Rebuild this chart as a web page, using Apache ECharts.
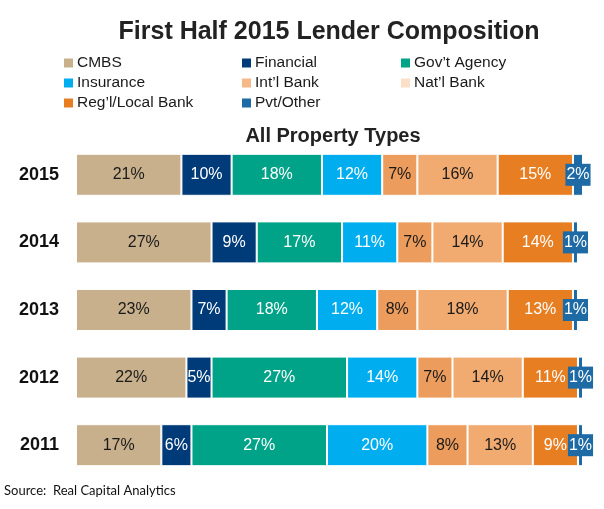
<!DOCTYPE html>
<html>
<head>
<meta charset="utf-8">
<script src="https://cdn.jsdelivr.net/npm/echarts@6/dist/echarts.min.js"></script>
<style>
  html, body { margin: 0; padding: 0; background: #fff; }
  #chart { width: 604px; height: 509px; }
</style>
</head>
<body>
<div id="chart"></div>
<script>
// years, top to bottom
var years = ['2015', '2014', '2013', '2012', '2011'];

// share of lending, % (labels as printed)
var cmbs      = [21, 27, 23, 22, 17];
var financial = [10,  9,  7,  5,  6];
var govAgency = [18, 17, 18, 27, 27];
var insurance = [12, 11, 12, 14, 20];
var intlBank  = [ 7,  7,  8,  7,  8];
var natlBank  = [16, 14, 18, 14, 13];
var reglBank  = [15, 14, 13, 11,  9];
var pvtOther  = [ 2,  1,  1,  1,  1];

var chart = echarts.init(document.getElementById('chart'), null, { renderer: 'canvas' });

var font = 'Arial';

function makeSeries(name, data, color, labelColor, extra) {
  var s = {
    name: name,
    type: 'bar',
    stack: 'all',
    barWidth: 42,
    data: data,
    itemStyle: { color: color, borderColor: '#fff', borderWidth: 1 },
    label: {
      show: true,
      position: 'inside',
      formatter: '{c}%',
      fontFamily: font,
      fontSize: 16,
      color: labelColor
    }
  };
  if (extra) {
    Object.assign(s.label, extra);
  }
  return s;
}

function legendCol(left, names) {
  return {
    orient: 'vertical',
    left: left,
    top: 55,
    padding: 0,
    icon: 'rect',
    itemWidth: 11,
    itemHeight: 11,
    itemGap: 4,
    selectedMode: false,
    textStyle: { fontFamily: font, fontSize: 15.5, color: '#1a1a1a', lineHeight: 15, padding: [0, 0, 0, -2] },
    data: names
  };
}

var option = {
  backgroundColor: '#fff',
  animation: false,
  title: [{
    text: 'First Half 2015 Lender Composition',
    left: 324,
    top: 15,
    textAlign: 'center',
    textStyle: { fontFamily: font, fontSize: 25, fontWeight: 'bold', color: '#222' }
  }, {
    text: 'All Property Types',
    left: 328,
    top: 121,
    textAlign: 'center',
    textStyle: { fontFamily: font, fontSize: 20, fontWeight: 'bold', color: '#222' }
  }],
  legend: [
    legendCol(62, [
      { name: 'CMBS' },
      { name: 'Insurance' },
      { name: 'Reg\u2019l/Local Bank' }
    ]),
    legendCol(240, [
      { name: 'Financial' },
      { name: 'Int\u2019l Bank', itemStyle: { color: '#F6B887' } },
      { name: 'Pvt/Other' }
    ]),
    legendCol(399, [
      { name: 'Gov\u2019t Agency' },
      { name: 'Nat\u2019l Bank', itemStyle: { color: '#FBDFC6' } }
    ])
  ],
  grid: { left: 76, top: 141, width: 507, height: 338 },
  xAxis: { type: 'value', min: 0, max: 101, show: false },
  yAxis: {
    type: 'category',
    data: years,
    inverse: true,
    axisLine: { show: false },
    axisTick: { show: false },
    axisLabel: { fontFamily: font, fontSize: 18, fontWeight: 'bold', color: '#111', margin: 17 }
  },
  series: [
    makeSeries('CMBS', cmbs, '#C8B08C', '#1a1a1a'),
    makeSeries('Financial', financial, '#003B79', '#fff'),
    makeSeries('Gov\u2019t Agency', govAgency, '#00A388', '#fff'),
    makeSeries('Insurance', insurance, '#00AEEF', '#fff'),
    makeSeries('Int\u2019l Bank', intlBank, '#EC9C5C', '#1a1a1a'),
    makeSeries('Nat\u2019l Bank', natlBank, '#F1AB70', '#1a1a1a'),
    makeSeries('Reg\u2019l/Local Bank', reglBank, '#E87E22', '#fff'),
    makeSeries('Pvt/Other', pvtOther, '#1D6AA5', '#fff', { backgroundColor: '#1D6AA5', padding: [3, 1] })
  ],
  graphic: [{
    type: 'text',
    left: 4,
    top: 484,
    style: { text: 'Source:  Real Capital Analytics', fontFamily: 'Lato, "Open Sans", sans-serif', fontSize: 13, fill: '#111' }
  }]
};

chart.setOption(option);
</script>
</body>
</html>
